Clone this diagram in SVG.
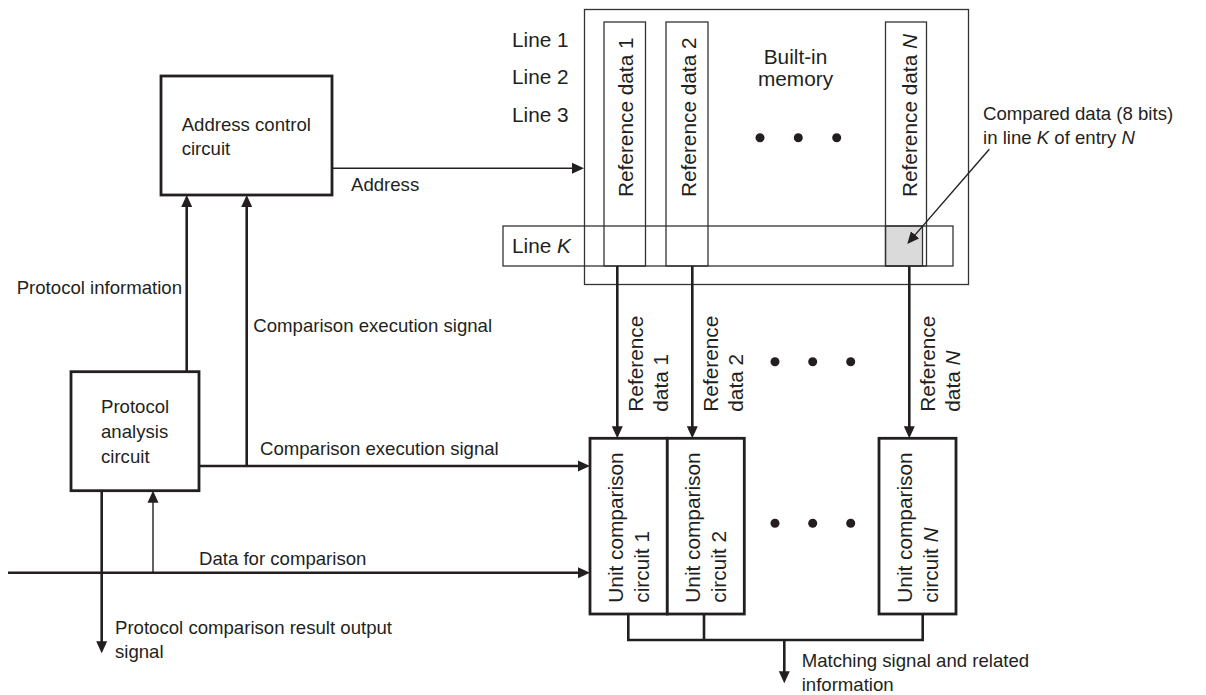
<svg xmlns="http://www.w3.org/2000/svg" width="1206" height="695" viewBox="0 0 1206 695">
  <style>
    text { font-family: "Liberation Sans", Arial, Helvetica, sans-serif; fill: #231f20; }
    .t { font-size: 18.6px; }
    .m { font-size: 20.8px; }
    .it { font-style: italic; }
    .thin { fill: none; stroke: #333; stroke-width: 1.3; }
    .box { fill: #fff; stroke: #231f20; stroke-width: 2.8; }
    .w { fill: none; stroke: #231f20; stroke-width: 2.6; }
    .wt { fill: none; stroke: #231f20; stroke-width: 1.4; }
    .dot { fill: #231f20; }
  </style>
  <defs>
    <marker id="ah" viewBox="0 0 12 12" markerWidth="12" markerHeight="12" refX="4" refY="6" orient="auto" markerUnits="userSpaceOnUse">
      <path d="M0,0.5 L12,6 L0,11.5 z" fill="#231f20"/>
    </marker>
  </defs>

  <!-- Built-in memory with reference data columns -->
  <g id="memory">
    <rect class="thin" x="584.5" y="9.5" width="384" height="275"/>
    <rect x="885.5" y="226" width="37" height="40" fill="#dadada" stroke="#333" stroke-width="1.3"/>
    <rect class="thin" x="503" y="226" width="450" height="40"/>
    <rect class="thin" x="604" y="22" width="41.5" height="244"/>
    <rect class="thin" x="666" y="22" width="42" height="244"/>
    <rect class="thin" x="885.5" y="22" width="41" height="244"/>
    <text class="m" x="512" y="47">Line 1</text>
    <text class="m" x="512" y="84">Line 2</text>
    <text class="m" x="512" y="121.5">Line 3</text>
    <text class="m" x="512" y="253">Line <tspan class="it">K</tspan></text>
    <text class="m" transform="translate(633,197) rotate(-90)">Reference data 1</text>
    <text class="m" transform="translate(695.5,197) rotate(-90)">Reference data 2</text>
    <text class="m" transform="translate(917,197) rotate(-90)">Reference data <tspan class="it">N</tspan></text>
    <text class="m" x="795.5" y="64" text-anchor="middle">Built-in</text>
    <text class="m" x="795.5" y="86" text-anchor="middle">memory</text>
    <circle class="dot" cx="760" cy="137.7" r="4.5"/>
    <circle class="dot" cx="798.3" cy="137.7" r="4.5"/>
    <circle class="dot" cx="836.7" cy="137.7" r="4.5"/>
  </g>

  <!-- Annotation of the compared cell -->
  <g id="compared-note">
    <text class="t" font-size="19" x="983" y="120">Compared data (8 bits)</text>
    <text class="t" font-size="19" x="983" y="144">in line <tspan class="it">K</tspan> of entry <tspan class="it">N</tspan></text>
  </g>

  <g id="address-control">
    <rect class="box" x="161" y="76" width="171" height="119"/>
    <text class="t" x="181.7" y="130.7">Address control</text>
    <text class="t" x="181.7" y="155">circuit</text>
  </g>

  <g id="protocol-analysis">
    <rect class="box" x="71" y="371.7" width="128" height="119"/>
    <text class="t" x="101" y="412.7">Protocol</text>
    <text class="t" x="101" y="438.3">analysis</text>
    <text class="t" x="101" y="462.7">circuit</text>
  </g>

  <g id="unit-comparison-1">
    <rect class="box" x="590" y="438.3" width="77.3" height="175.7"/>
    <text class="m" transform="translate(623.3,602.7) rotate(-90)">Unit comparison</text>
    <text class="m" transform="translate(649.3,602.7) rotate(-90)">circuit 1</text>
  </g>
  <g id="unit-comparison-2">
    <rect class="box" x="667.3" y="438.3" width="77" height="175.7"/>
    <text class="m" transform="translate(700,602.7) rotate(-90)">Unit comparison</text>
    <text class="m" transform="translate(725.7,602.7) rotate(-90)">circuit 2</text>
  </g>
  <g id="unit-comparison-n">
    <rect class="box" x="879" y="438.3" width="77" height="175.7"/>
    <text class="m" transform="translate(911.7,602.7) rotate(-90)">Unit comparison</text>
    <text class="m" transform="translate(937.7,602.7) rotate(-90)">circuit <tspan class="it">N</tspan></text>
  </g>

  <g id="ellipsis">
    <circle class="dot" cx="775" cy="361.7" r="4.5"/>
    <circle class="dot" cx="812.7" cy="361.7" r="4.5"/>
    <circle class="dot" cx="850.7" cy="361.7" r="4.5"/>
    <circle class="dot" cx="775" cy="523.3" r="4.5"/>
    <circle class="dot" cx="812.7" cy="523.3" r="4.5"/>
    <circle class="dot" cx="850.7" cy="523.3" r="4.5"/>
  </g>

  <!-- Signal lines -->
  <g id="connectors">
    <line class="wt" x1="332" y1="168.3" x2="576" y2="168.3" marker-end="url(#ah)"/>
    <line class="w" x1="186.7" y1="371.7" x2="186.7" y2="203" marker-end="url(#ah)"/>
    <line class="w" x1="246.7" y1="466" x2="246.7" y2="203" marker-end="url(#ah)"/>
    <line class="w" x1="199" y1="466" x2="582" y2="466" marker-end="url(#ah)"/>
    <line class="w" x1="8" y1="572.7" x2="582" y2="572.7" marker-end="url(#ah)"/>
    <line class="wt" x1="153" y1="572.7" x2="153" y2="498.7" marker-end="url(#ah)"/>
    <line class="w" x1="101.7" y1="490.7" x2="101.7" y2="645.3" marker-end="url(#ah)"/>
    <line class="w" x1="617.3" y1="266" x2="617.3" y2="430.3" marker-end="url(#ah)"/>
    <line class="w" x1="692.3" y1="266" x2="692.3" y2="430.3" marker-end="url(#ah)"/>
    <line class="w" x1="909.3" y1="266" x2="909.3" y2="430.3" marker-end="url(#ah)"/>
    <path class="w" d="M628.3,614 V640 H922.7 V614 M704,614 V640"/>
    <line class="w" x1="784.3" y1="640" x2="784.3" y2="675.3" marker-end="url(#ah)"/>
    <line class="wt" x1="989.3" y1="149.3" x2="912.5" y2="237.9" marker-end="url(#ah)"/>
  </g>

  <!-- Connector labels -->
  <g id="labels">
    <text class="t" x="351" y="190.7">Address</text>
    <text class="t" x="16.7" y="294.3">Protocol information</text>
    <text class="t" x="253.3" y="331.7">Comparison execution signal</text>
    <text class="t" x="260" y="455">Comparison execution signal</text>
    <text class="t" x="199" y="565">Data for comparison</text>
    <text class="t" x="115" y="634.3">Protocol comparison result output</text>
    <text class="t" x="115" y="658.3">signal</text>
    <text class="m" transform="translate(642.7,411.7) rotate(-90)">Reference</text>
    <text class="m" transform="translate(668,411.7) rotate(-90)">data 1</text>
    <text class="m" transform="translate(717.7,411.7) rotate(-90)">Reference</text>
    <text class="m" transform="translate(742.7,411.7) rotate(-90)">data 2</text>
    <text class="m" transform="translate(935,411.7) rotate(-90)">Reference</text>
    <text class="m" transform="translate(960,411.7) rotate(-90)">data <tspan class="it">N</tspan></text>
    <text class="t" font-size="19" x="801.7" y="667">Matching signal and related</text>
    <text class="t" font-size="19" x="801.7" y="691">information</text>
  </g>
</svg>
